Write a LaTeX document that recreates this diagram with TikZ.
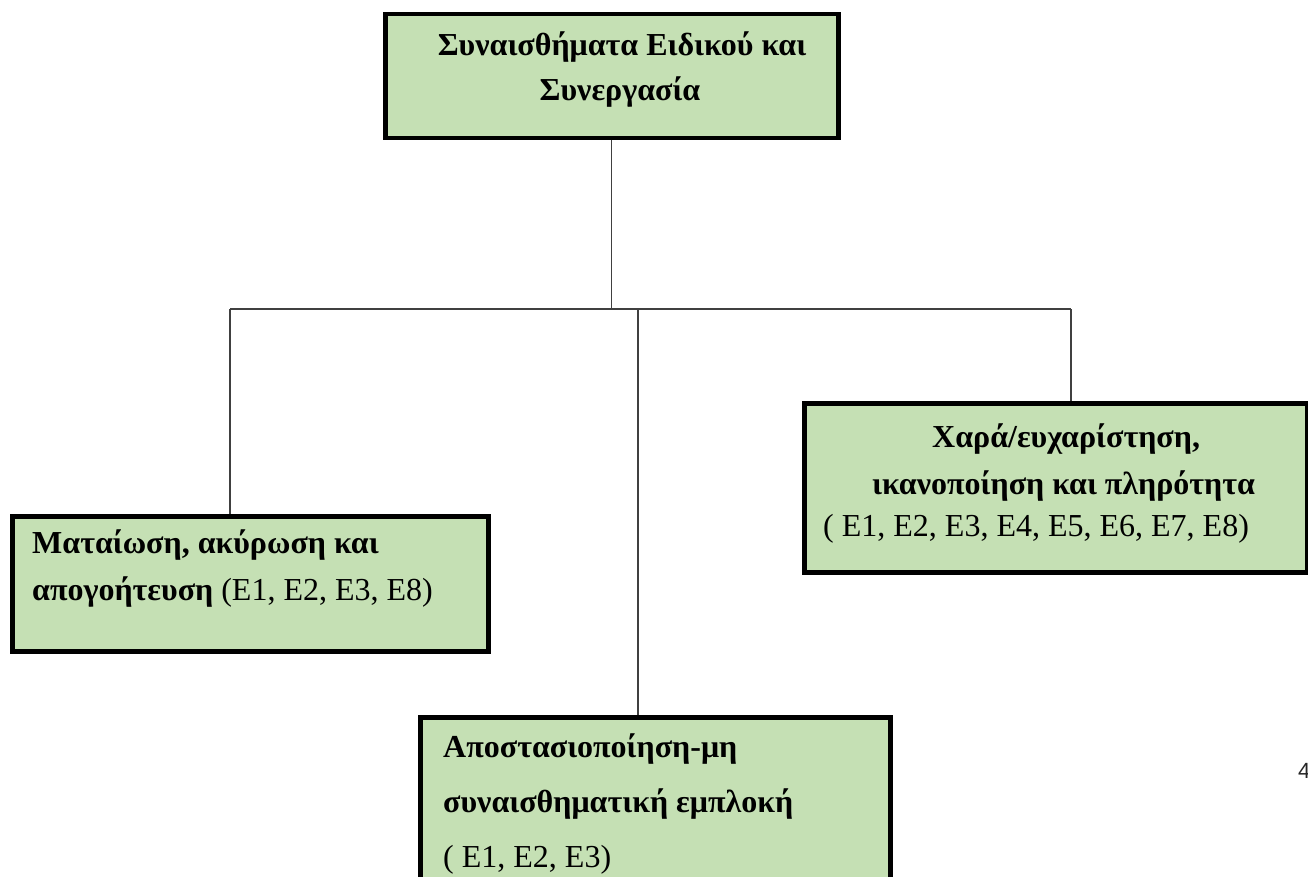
\documentclass[tikz,border=0pt]{standalone}
\usepackage{fontspec}
\setmainfont{Liberation Serif}
\newfontfamily\pagefont{Liberation Sans}
\definecolor{boxgreen}{RGB}{197,224,180}
\definecolor{wiregray}{RGB}{64,64,64}
\begin{document}
\begin{tikzpicture}[x=1pt,y=-1pt,
  box/.style={draw=black, line width=4.5pt, fill=boxgreen, rectangle,
    inner sep=0pt, anchor=north west},
  wire/.style={draw=wiregray, line width=1.3pt},
  txt/.style={inner sep=0pt, font=\fontsize{32}{38}\selectfont},
  btxt/.style={inner sep=0pt, font=\fontsize{32}{38}\selectfont\bfseries}]
\useasboundingbox (0,0) rectangle (1308,877);
\clip (0,0) rectangle (1308,877);

% boxes
\node[box, minimum width=453pt, minimum height=124pt] (top) at (383,12) {};
\node[box, minimum width=476pt, minimum height=135pt] (left) at (10,514) {};
\node[box, minimum width=503pt, minimum height=169pt] (right) at (802,401) {};
\node[box, minimum width=470pt, minimum height=220pt] (bottom) at (418,715) {};

% tree connectors
\coordinate (lj) at (230,309);
\coordinate (mj) at (638,309);
\coordinate (rj) at (1071,309);
\coordinate (hub) at (top.south |- lj);
\draw[wire] (top.south) -- (hub);
\draw[wire] (lj) -- (rj);
\draw[wire] (lj) -- (lj |- left.north);
\draw[wire] (mj) -- (mj |- bottom.north);
\draw[wire] (rj) -- (rj |- right.north);

% top box text
\node[btxt, anchor=base] (t1) at (622,56) {Συναισθήματα Ειδικού και};
\node[btxt, anchor=base] (t2) at (620,101) {Συνεργασία};

% left box text
\node[btxt, anchor=base west] (l1) at (32,553) {Ματαίωση, ακύρωση και};
\node[txt, anchor=base west] (l2) at (32,600) {\textbf{απογοήτευση} (E1, E2, E3, E8)};

% right box text
\node[btxt, anchor=base west] (r1) at (932,447) {Χαρά/ευχαρίστηση,};
\node[btxt, anchor=base west] (r2) at (872,494) {ικανοποίηση και πληρότητα};
\node[txt, anchor=base west] (r3) at (823,536) {( E1, E2, E3, E4, E5, E6, E7, E8)};

% bottom box text
\node[btxt, anchor=base west] (b1) at (443,757) {Αποστασιοποίηση-μη};
\node[btxt, anchor=base west] (b2) at (443,812) {συναισθηματική εμπλοκή};
\node[txt, anchor=base west] (b3) at (443,867) {( E1, E2, E3)};

% page number at the edge
\node[inner sep=0pt, anchor=base west, font=\pagefont\fontsize{22}{26}\selectfont, text=black!85] (pg) at (1298,778) {4};
\end{tikzpicture}
\end{document}
